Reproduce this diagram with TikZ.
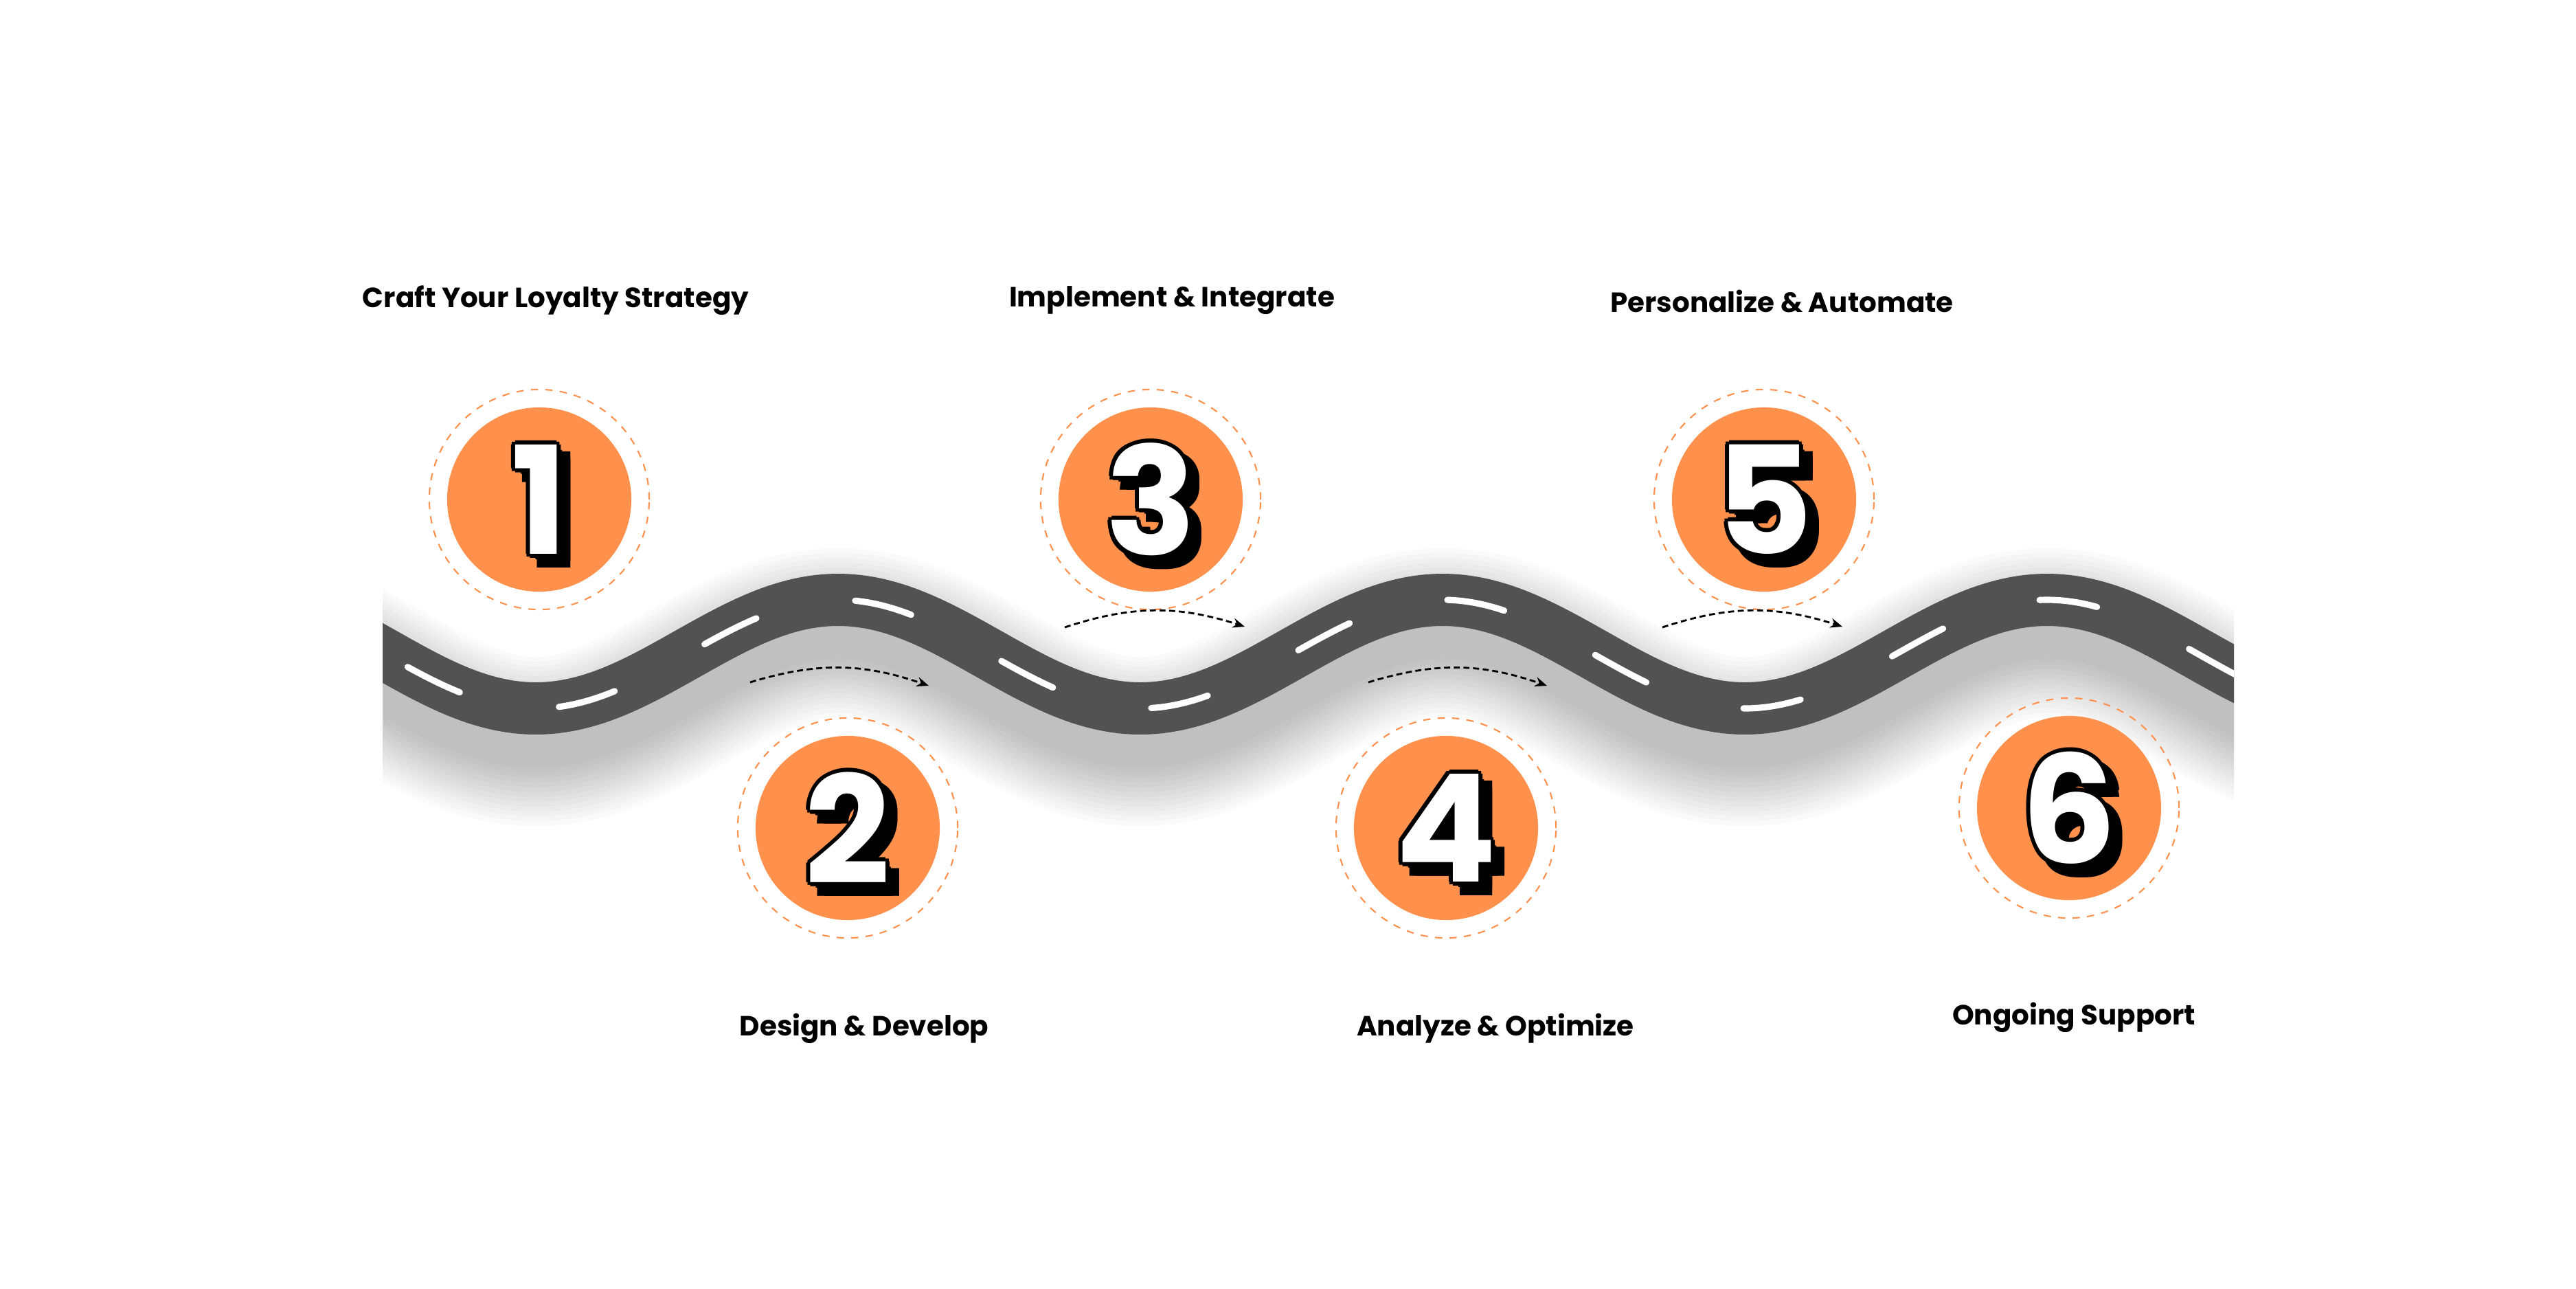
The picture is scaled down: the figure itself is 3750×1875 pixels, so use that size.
\documentclass[tikz,border=0pt]{standalone}
\usepackage{fontspec}
\setmainfont{Poppins}
\usetikzlibrary{arrows.meta,calc}
\definecolor{org}{HTML}{FF914D}
\definecolor{road}{HTML}{525252}
\tikzset{
  lbl/.style={font=\bfseries\fontsize{11.5pt}{14pt}\selectfont, text=black},
  disc/.style={fill=org, draw=none},
  ring/.style={draw=org, dashed, line width=0.6pt, dash pattern=on 3pt off 3pt},
  flow/.style={-{Stealth[length=5pt,width=4pt]}, dashed, line width=0.8pt, dash pattern=on 2.5pt off 1.5pt},
  numf/.style={font=\bfseries\fontsize{62pt}{62pt}\selectfont, inner sep=0}
}
\newcommand{\bignum}[3]{%
  \foreach \dx/\dy in {8/8,12/12,16/16,20/20,10/20,20/10}{\node[numf,text=black] at ($(#1)+(\dx,\dy)$) {#2};}
  \foreach \a in {0,45,...,315}{\node[numf,text=black] at ($(#1)+(\a:6)$) {#2};}
  \node[numf,text=white] (#3) at (#1) {#2};}
\begin{document}
\begin{tikzpicture}[x=0.01cm,y=-0.01cm]
\useasboundingbox (0,0) rectangle (3750,1875);
\fill[white] (0,0) rectangle (3750,1875);
% road
\begin{scope}
\clip (557,0) rectangle (3252,1875);
\foreach \w in {70,66,...,22}{
  \draw[black, opacity=0.018, line width=\w pt] plot[domain=450:3350, samples=200, smooth] (\x, {1000+79*cos((\x-780)/440*180)});}
\draw[road, line width=21.6pt] plot[domain=450:3350, samples=240, smooth] (\x, {952+79*cos((\x-780)/440*180)});
\draw[white, line width=2.6pt, line cap=round, dash pattern=on 24pt off 42pt, dash phase=20pt] plot[domain=450:3350, samples=240, smooth] (\x, {952+79*cos((\x-780)/440*180)});
\end{scope}
% circles
\foreach \n/\cx/\cy in {1/785/727, 2/1234/1205, 3/1675/727, 4/2105/1205, 5/2568/727, 6/3012/1176}{
  \fill[disc] (\cx,\cy) circle[radius=1.34cm];
  \draw[ring] (\cx,\cy) circle[radius=1.6cm];
  \coordinate (c\n) at (\cx,\cy);
}
\bignum{c1}{1}{n1}
\bignum{c2}{2}{n2}
\bignum{c3}{3}{n3}
\bignum{c4}{4}{n4}
\bignum{c5}{5}{n5}
\bignum{c6}{6}{n6}
% labels
\node[lbl] (l1) at (809,437) {Craft Your Loyalty Strategy};
\node[lbl] (l3) at (1706,437) {Implement \& Integrate};
\node[lbl] (l5) at (2594,439) {Personalize \& Automate};
\node[lbl] (l2) at (1258,1497) {Design \& Develop};
\node[lbl] (l4) at (2177,1497) {Analyze \& Optimize};
\node[lbl] (l6) at (3019,1481) {Ongoing Support};
% flow arrows
\coordinate (a1s) at (1092,993); \coordinate (a1e) at (1352,998);
\coordinate (a2s) at (1550,913); \coordinate (a2e) at (1812,912);
\coordinate (a3s) at (1992,993); \coordinate (a3e) at (2252,998);
\coordinate (a4s) at (2420,913); \coordinate (a4e) at (2682,912);
\foreach \k in {1,2,3,4}{\draw[flow] (a\k s) to[bend left=18] (a\k e);}
\end{tikzpicture}
\end{document}
